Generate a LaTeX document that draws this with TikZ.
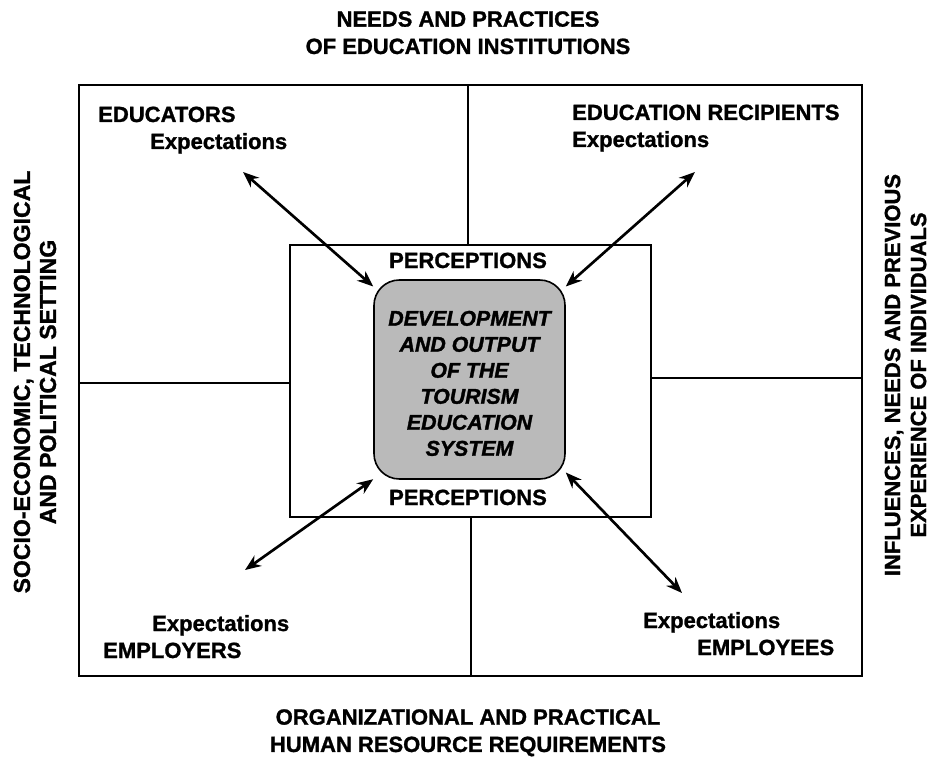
\documentclass[tikz,border=0pt]{standalone}
\usepackage{fontspec}
\setmainfont{Liberation Sans}[BoldFeatures={FakeBold=1.2}, BoldItalicFeatures={FakeBold=1.6}]
\usetikzlibrary{arrows.meta}

\tikzstyle{frame} = [draw=black, line width=1.2pt]
\tikzstyle{lbl}   = [inner sep=0pt, font=\fontsize{16.5}{20.5}\selectfont\bfseries]
\tikzstyle{side}  = [lbl, align=center, rotate=90, font=\fontsize{16.5}{19.5}\selectfont\bfseries]
\tikzstyle{core}  = [draw=black, line width=1.2pt, fill=black!27, rounded corners=19pt,
                     minimum width=143.25pt, minimum height=149.25pt, inner sep=0pt,
                     align=center, font=\fontsize{16}{19.5}\selectfont\bfseries\itshape]
\tikzstyle{link}  = [{Stealth[length=12pt,width=9.5pt]}-{Stealth[length=12pt,width=9.5pt]}, line width=2pt]

\begin{document}
\begin{tikzpicture}[x=0.75pt, y=-0.75pt]
  \useasboundingbox (0,0) rectangle (930,759);
  % outer frame, quadrant dividers and the inner field
  \draw[frame] (79,85) rectangle (862,676);
  \draw[frame] (468,85) -- (468,245);
  \draw[frame] (471,517) -- (471,676);
  \draw[frame] (79,383) -- (290,383);
  \draw[frame] (651,378) -- (862,378);
  \draw[frame] (290,245) rectangle (651,517);

  \node[core] (core) at (469.5,379.5)
    {\rule{0pt}{17pt}DEVELOPMENT\\AND OUTPUT\\OF THE\\TOURISM\\EDUCATION\\SYSTEM};
  \node[lbl, anchor=base] (pertop) at (468,268) {PERCEPTIONS};
  \node[lbl, anchor=base] (perbot) at (468,505) {PERCEPTIONS};

  % the four parties
  \node[lbl, anchor=base west] (educators)  at (98,122)  {EDUCATORS};
  \node[lbl, anchor=base west] (eduexp)     at (150,149) {Expectations};
  \node[lbl, anchor=base west] (recipients) at (572,120) {EDUCATION RECIPIENTS};
  \node[lbl, anchor=base west] (recexp)     at (572,147) {Expectations};
  \node[lbl, anchor=base west] (emprexp)    at (152,631) {Expectations};
  \node[lbl, anchor=base west] (employers)  at (103,658) {EMPLOYERS};
  \node[lbl, anchor=base west] (empeexp)    at (643,628) {Expectations};
  \node[lbl, anchor=base west] (employees)  at (697,655) {EMPLOYEES};

  % surrounding influences
  \node[lbl, align=center, anchor=north] (needs) at (468,11)
    {NEEDS AND PRACTICES\\OF EDUCATION INSTITUTIONS};
  \node[lbl, align=center, anchor=north] (hrreq) at (468,709)
    {ORGANIZATIONAL AND PRACTICAL\\HUMAN RESOURCE REQUIREMENTS};
  \node[side, font=\fontsize{17.3}{19.5}\selectfont\bfseries] (setting) at (35,382)
    {SOCIO-ECONOMIC, TECHNOLOGICAL\\AND POLITICAL SETTING};
  \node[side] (influences) at (905.5,375)
    {INFLUENCES, NEEDS AND PREVIOUS\\EXPERIENCE OF INDIVIDUALS};

  % two-way arrows
  \coordinate (eduend)  at (243,172);
  \coordinate (recend)  at (695,172);
  \coordinate (emprend) at (245,570);
  \coordinate (empeend) at (682,593);
  \draw[link] (eduend)  -- (core.136);
  \draw[link] (recend)  -- (core.44);
  \draw[link] (emprend) -- (core.-134);
  \draw[link] (empeend) -- (core.-44);
\end{tikzpicture}
\end{document}
